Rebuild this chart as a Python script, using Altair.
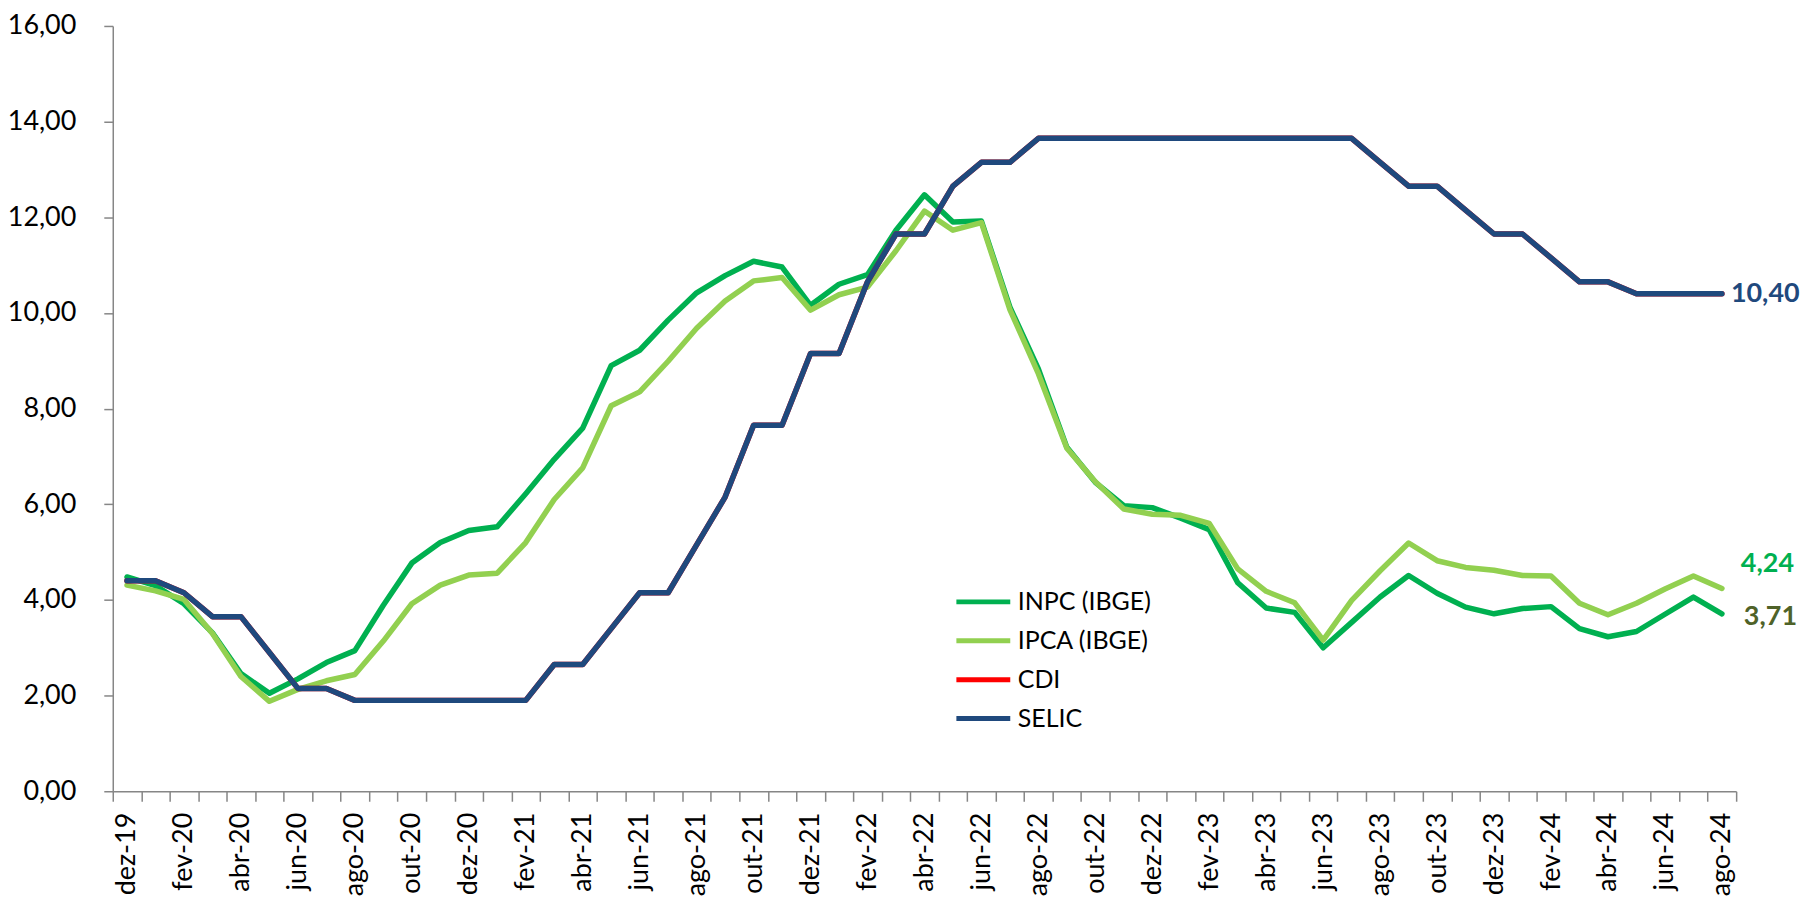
import json
import altair as alt
import pandas as pd

months = ["dez-19", "jan-20", "fev-20", "mar-20", "abr-20", "mai-20", "jun-20", "jul-20", "ago-20",
          "set-20", "out-20", "nov-20", "dez-20", "jan-21", "fev-21", "mar-21", "abr-21", "mai-21",
          "jun-21", "jul-21", "ago-21", "set-21", "out-21", "nov-21", "dez-21", "jan-22", "fev-22",
          "mar-22", "abr-22", "mai-22", "jun-22", "jul-22", "ago-22", "set-22", "out-22", "nov-22",
          "dez-22", "jan-23", "fev-23", "mar-23", "abr-23", "mai-23", "jun-23", "jul-23", "ago-23",
          "set-23", "out-23", "nov-23", "dez-23", "jan-24", "fev-24", "mar-24", "abr-24", "mai-24",
          "jun-24", "jul-24", "ago-24"]

inpc = [4.48, 4.30, 3.92, 3.31, 2.46, 2.05, 2.35, 2.69, 2.94, 3.89, 4.77, 5.20, 5.45, 5.53, 6.22,
        6.94, 7.59, 8.90, 9.22, 9.85, 10.42, 10.78, 11.08, 10.96, 10.16, 10.60, 10.80, 11.73, 12.47,
        11.90, 11.92, 10.12, 8.83, 7.19, 6.46, 5.97, 5.93, 5.71, 5.47, 4.36, 3.83, 3.74, 3.00, 3.53,
        4.06, 4.51, 4.14, 3.85, 3.71, 3.82, 3.86, 3.40, 3.23, 3.34, 3.70, 4.06, 3.71]

ipca = [4.31, 4.19, 4.01, 3.30, 2.40, 1.88, 2.13, 2.31, 2.44, 3.14, 3.92, 4.31, 4.52, 4.56, 5.20,
        6.10, 6.76, 8.06, 8.35, 8.99, 9.68, 10.25, 10.67, 10.74, 10.06, 10.38, 10.54, 11.30, 12.13,
        11.73, 11.89, 10.07, 8.73, 7.17, 6.47, 5.90, 5.79, 5.77, 5.60, 4.65, 4.18, 3.94, 3.16, 3.99,
        4.61, 5.19, 4.82, 4.68, 4.62, 4.51, 4.50, 3.93, 3.69, 3.93, 4.23, 4.50, 4.24]

cdi = [4.40, 4.40, 4.15, 3.65, 3.65, 2.90, 2.15, 2.15, 1.90, 1.90, 1.90, 1.90, 1.90, 1.90, 1.90,
       2.65, 2.65, 3.40, 4.15, 4.15, 5.15, 6.15, 7.65, 7.65, 9.15, 9.15, 10.65, 11.65, 11.65, 12.65,
       13.15, 13.15, 13.65, 13.65, 13.65, 13.65, 13.65, 13.65, 13.65, 13.65, 13.65, 13.65, 13.65,
       13.65, 13.15, 12.65, 12.65, 12.15, 11.65, 11.65, 11.15, 10.65, 10.65, 10.40, 10.40, 10.40, 10.40]

selic = [4.40, 4.40, 4.15, 3.65, 3.65, 2.90, 2.15, 2.15, 1.90, 1.90, 1.90, 1.90, 1.90, 1.90, 1.90,
         2.65, 2.65, 3.40, 4.15, 4.15, 5.15, 6.15, 7.65, 7.65, 9.15, 9.15, 10.65, 11.65, 11.65, 12.65,
         13.15, 13.15, 13.65, 13.65, 13.65, 13.65, 13.65, 13.65, 13.65, 13.65, 13.65, 13.65, 13.65,
         13.65, 13.15, 12.65, 12.65, 12.15, 11.65, 11.65, 11.15, 10.65, 10.65, 10.40, 10.40, 10.40, 10.40]

series_names = ["INPC (IBGE)", "IPCA (IBGE)", "CDI", "SELIC"]
series_colors = ["#00B050", "#92D050", "#FF0000", "#1F497D"]

y_ticks = [0, 2, 4, 6, 8, 10, 12, 14, 16]
label_months = months[::2]

end_labels = ["10,40", "4,24", "3,71"]
end_values = [selic[-1], ipca[-1], inpc[-1]]
end_colors = ["#1F497D", "#00B050", "#4F6228"]

rows = []
for name, vals in zip(series_names, [inpc, ipca, cdi, selic]):
    for i, (m, v) in enumerate(zip(months, vals)):
        rows.append({"mes": m, "idx": i, "serie": name, "valor": v})
df = pd.DataFrame(rows)

FONT = "Lato"
GRAY = "#868686"

x_scale = alt.Scale(type="band", domain=months, paddingInner=0, paddingOuter=0)
y_scale = alt.Scale(domain=[0, 16], nice=False, zero=True)

x_axis = alt.Axis(
    title=None, labelAngle=-90, tickBand="extent", ticks=True, tickSize=10, tickWidth=1.5,
    tickColor=GRAY, domainColor=GRAY, domainWidth=1.5, labelFont=FONT, labelFontSize=27,
    labelColor="black", labelPadding=11, grid=False, labelOverlap=False,
    labelExpr="indexof(" + json.dumps(label_months) + ", datum.value) >= 0 ? datum.value : ''",
)
y_axis = alt.Axis(
    title=None, values=y_ticks, grid=False, tickSize=9, tickWidth=1.5, tickColor=GRAY,
    domainColor=GRAY, domainWidth=1.5, labelFont=FONT, labelFontSize=27, labelColor="black",
    labelPadding=28, labelExpr="replace(format(datum.value, '.2f'), '.', ',')",
)

lines = alt.Chart(df).mark_line(strokeWidth=5.5, strokeCap="round", strokeJoin="round").encode(
    x=alt.X("mes:N", sort=months, scale=x_scale, axis=x_axis, bandPosition=0.5),
    y=alt.Y("valor:Q", scale=y_scale, axis=y_axis),
    color=alt.Color(
        "serie:N", sort=series_names,
        scale=alt.Scale(domain=series_names, range=series_colors),
        legend=alt.Legend(
            title=None, orient="none", legendX=843, legendY=558, symbolType="stroke",
            symbolSize=2916, symbolStrokeWidth=5, labelFont=FONT, labelFontSize=25,
            labelColor="black", rowPadding=0, clipHeight=38.4, padding=0, labelOffset=5,
        ),
    ),
    order=alt.Order("idx:Q"),
)

layers = [lines]
offsets = [(9, 0), (19, -24), (22, 3)]
for txt, val, col, (dx, dy) in zip(end_labels, end_values, end_colors, offsets):
    tdf = pd.DataFrame({"mes": [months[-1]], "valor": [val], "txt": [txt]})
    layers.append(
        alt.Chart(tdf).mark_text(
            align="left", baseline="middle", dx=dx, dy=dy, font=FONT, fontSize=27,
            fontWeight="bold", color=col,
        ).encode(
            x=alt.X("mes:N", sort=months, scale=x_scale, bandPosition=0.5),
            y=alt.Y("valor:Q", scale=y_scale),
            text="txt:N",
        )
    )

chart = alt.layer(*layers).properties(
    width=1627, height=767,
    autosize=alt.AutoSizeParams(type="none"),
    padding={"left": 105, "top": 17, "right": 66, "bottom": 110},
    background="white",
).configure_view(stroke=None)

chart.save("out.html", embed_options={"renderer": "svg", "actions": False})
